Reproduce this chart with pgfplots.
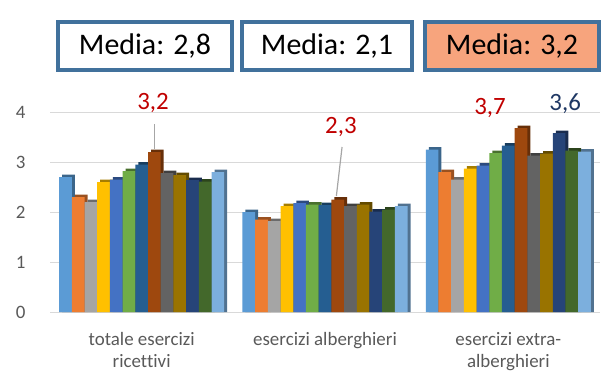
\documentclass[border=0pt]{standalone}
\usepackage{fontspec}
\setmainfont[Ligatures=NoCommon]{Carlito}
\usepackage{pgfplots}
\usepackage{pgfplotstable}
\pgfplotsset{compat=1.18}
\definecolor{c1}{HTML}{5B9BD5}
\definecolor{c2}{HTML}{ED7D31}
\definecolor{c3}{HTML}{A5A5A5}
\definecolor{c4}{HTML}{FFC000}
\definecolor{c5}{HTML}{4472C4}
\definecolor{c6}{HTML}{70AD47}
\definecolor{c7}{HTML}{255E91}
\definecolor{c8}{HTML}{9E480E}
\definecolor{c9}{HTML}{636363}
\definecolor{c10}{HTML}{997300}
\definecolor{c11}{HTML}{264478}
\definecolor{c12}{HTML}{43682B}
\definecolor{c13}{HTML}{7CAFDD}
\definecolor{boxblue}{HTML}{41719C}
\definecolor{salmon}{HTML}{F7A47D}
\definecolor{txtgray}{HTML}{595959}
\definecolor{gridgray}{HTML}{D9D9D9}
\definecolor{lblred}{HTML}{C00000}
\definecolor{lblblue}{HTML}{1F3864}
\pgfplotstableread{
g s1 s2 s3 s4 s5 s6 s7 s8 s9 s10 s11 s12 s13
0 2.70 2.30 2.20 2.60 2.65 2.82 2.95 3.20 2.78 2.74 2.64 2.61 2.80
1 2.00 1.85 1.82 2.12 2.18 2.15 2.14 2.25 2.12 2.15 2.01 2.05 2.12
2 3.25 2.80 2.65 2.87 2.93 3.18 3.33 3.68 3.13 3.17 3.58 3.23 3.21
}\datatable
\begin{document}
\begin{tikzpicture}[x=1bp,y=1bp]
\useasboundingbox (0,0) rectangle (608,375);
\begin{axis}[
  at={(50bp,63bp)}, anchor=south west,
  scale only axis, width=550bp, height=200bp,
  xmin=-0.5, xmax=2.5, ymin=0, ymax=4,
  ybar, bar width=12.7bp,
  axis line style={draw=none},
  tick style={draw=none},
  ymajorgrids, major grid style={gridgray, line width=0.8bp},
  ytick={0,1,2,3,4},
  xtick={0,1,2},
  xticklabels={{totale esercizi\\ricettivi},{esercizi alberghieri},{esercizi extra-\\alberghieri}},
  xticklabel style={align=center, font=\fontsize{19}{22}\selectfont, text=txtgray, yshift=-13bp},
  yticklabel style={font=\fontsize{19}{22}\selectfont, text=txtgray, xshift=-21bp},
  /pgf/number format/assume math mode=true,
  clip=false,
]
% depth faces (3-D look), drawn behind the front faces
\pgfplotsinvokeforeach{1,...,13}{
  \addplot[fill=c#1!65!black, draw=none, bar shift={(#1-7)*12.7bp+3bp}]
    table[x=g, y expr=\thisrow{s#1}+0.05]{\datatable};
}
\pgfplotsinvokeforeach{1,...,13}{
  \addplot[fill=c#1, draw=none, bar shift={(#1-7)*12.7bp}]
    table[x=g, y=s#1]{\datatable};
}
\draw[gray!70, line width=1.2bp] (axis cs:0.069,3.76) -- (axis cs:0.069,3.27);
\draw[gray!70, line width=1.2bp] (axis cs:1.093,3.30) -- (axis cs:1.062,2.32);
\node[text=lblred, font=\fontsize{25}{28}\selectfont] at (axis cs:0.062,4.18) {3,2};
\node[text=lblred, font=\fontsize{25}{28}\selectfont] at (axis cs:1.087,3.70) {2,3};
\node[text=lblred, font=\fontsize{25}{28}\selectfont] at (axis cs:1.90,4.08) {3,7};
\node[text=lblblue, font=\fontsize{25}{28}\selectfont] at (axis cs:2.31,4.16) {3,6};
\end{axis}
\node[draw=boxblue, line width=3.5bp, minimum width=174bp, minimum height=48bp, inner sep=0pt, fill=white, font=\fontsize{30}{34}\selectfont] at (145,329) {Media: 2,8};
\node[draw=boxblue, line width=3.5bp, minimum width=170bp, minimum height=48bp, inner sep=0pt, fill=white, font=\fontsize{30}{34}\selectfont] at (327,329) {Media: 2,1};
\node[draw=boxblue, line width=3.5bp, minimum width=174bp, minimum height=48bp, inner sep=0pt, fill=salmon, font=\fontsize{30}{34}\selectfont] at (512,329) {Media: 3,2};
\end{tikzpicture}
\end{document}
